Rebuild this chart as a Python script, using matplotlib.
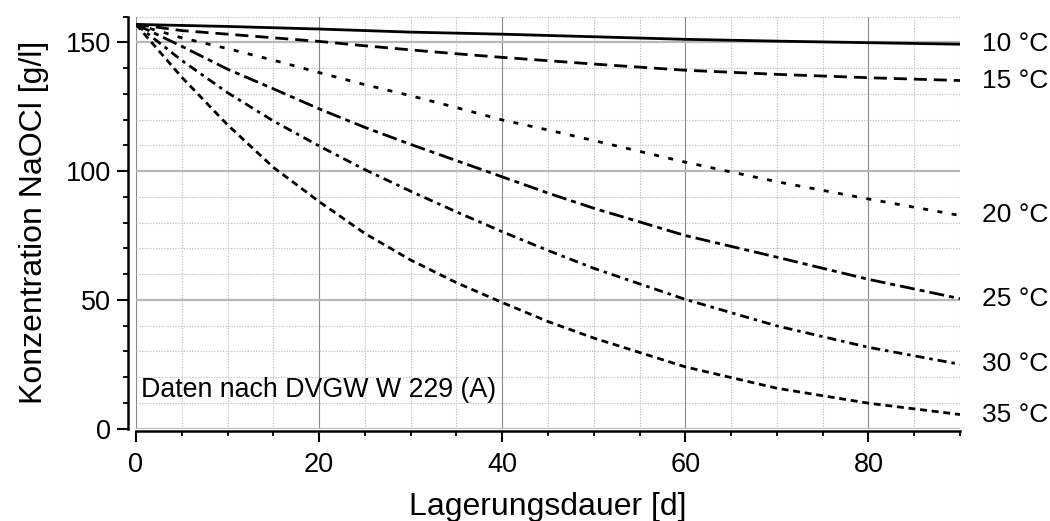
import numpy as np
import matplotlib
matplotlib.use("Agg")
import matplotlib.pyplot as plt
from matplotlib.ticker import MultipleLocator

plt.rcParams["font.family"] = ["Liberation Sans", "DejaVu Sans"]
plt.rcParams["lines.scale_dashes"] = False

# Lagerungsdauer in Tagen und NaOCl-Konzentration in g/l je Temperatur
days = [0, 5, 10, 15, 20, 25, 30, 35, 40, 45, 50, 60, 70, 80, 90]
conc_10 = [157.0, 156.6, 156.2, 155.7, 155.2, 154.6, 154.0, 153.6, 153.2,
           152.7, 152.2, 151.2, 150.5, 149.9, 149.3]
conc_15 = [157.0, 154.6, 153.2, 151.8, 150.4, 148.7, 147.1, 145.6, 144.2,
           142.9, 141.6, 139.2, 137.6, 136.3, 135.2]
conc_20 = [157.0, 151.8, 147.6, 143.1, 138.3, 133.6, 129.3, 124.7, 119.9,
           116.0, 111.9, 103.5, 95.9, 89.2, 82.8]
conc_25 = [157.0, 148.5, 139.6, 132.0, 124.2, 117.0, 110.4, 104.1, 97.8,
           91.5, 85.6, 75.0, 66.6, 58.0, 50.5]
conc_30 = [157.0, 143.0, 130.5, 119.5, 109.8, 100.6, 92.2, 84.2, 76.5,
           69.2, 62.3, 50.2, 39.9, 31.6, 25.0]
conc_35 = [157.0, 136.5, 118.0, 101.5, 88.2, 75.8, 65.5, 56.7, 49.0,
           41.6, 35.2, 24.0, 15.7, 9.9, 5.5]

temps = ["10 °C", "15 °C", "20 °C", "25 °C", "30 °C", "35 °C"]
series = [conc_10, conc_15, conc_20, conc_25, conc_30, conc_35]
dash_styles = [
    None,
    (9.4, 5.0),
    (3.6, 6.8),
    (10.8, 3.6, 3.6, 3.6),
    (6.5, 3.6, 2.5, 3.6),
    (5.0, 3.4),
]

fig = plt.figure(figsize=(10.5, 5.21), dpi=100)
ax = fig.add_axes([0.1295, 0.1772, 0.7848, 0.7908])

for label, values, dashes in zip(temps, series, dash_styles):
    line, = ax.plot(days, values, color="black", lw=2.0, zorder=3)
    if dashes is not None:
        line.set_dashes(dashes)
    ax.annotate(label, xy=(days[-1], values[-1]), xytext=(16, 0),
                textcoords="offset points", va="center", ha="left",
                fontsize=19, annotation_clip=False)

ax.text(0.5, 12.3, "Daten nach DVGW W 229 (A)", fontsize=19.3,
        ha="left", va="baseline")

ax.set_xlim(0, 90)
ax.set_ylim(0, 160)
ax.xaxis.set_major_locator(MultipleLocator(20))
ax.xaxis.set_minor_locator(MultipleLocator(5))
ax.yaxis.set_major_locator(MultipleLocator(50))
ax.yaxis.set_minor_locator(MultipleLocator(10))

ax.xaxis.grid(True, which="major", color="#8a8a8a", lw=0.8)
ax.yaxis.grid(True, which="major", color="#b8b8b8", lw=1.6)
ax.grid(True, which="minor", color="#c4c4c4", lw=0.8, ls=(0, (1, 1)))
ax.set_axisbelow(True)

for side in ["top", "right"]:
    ax.spines[side].set_visible(False)
ax.spines["left"].set_position(("outward", 6))
ax.spines["bottom"].set_position(("outward", 2))
ax.spines["left"].set_bounds(0, 160)
for side in ["left", "bottom"]:
    ax.spines[side].set_linewidth(1.8)

ax.tick_params(which="major", direction="out", length=8, width=1.5,
               labelsize=19.5)
ax.tick_params(which="minor", direction="out", length=3.5, width=1.3)
ax.tick_params(axis="y", which="major", pad=4)
ax.tick_params(axis="x", which="major", pad=7)

ax.set_xlabel("Lagerungsdauer [d]", fontsize=23, labelpad=10)
ax.set_ylabel("Konzentration NaOCl [g/l]", fontsize=23, labelpad=12)

fig.savefig("out.png", dpi=100)
plt.close(fig)
